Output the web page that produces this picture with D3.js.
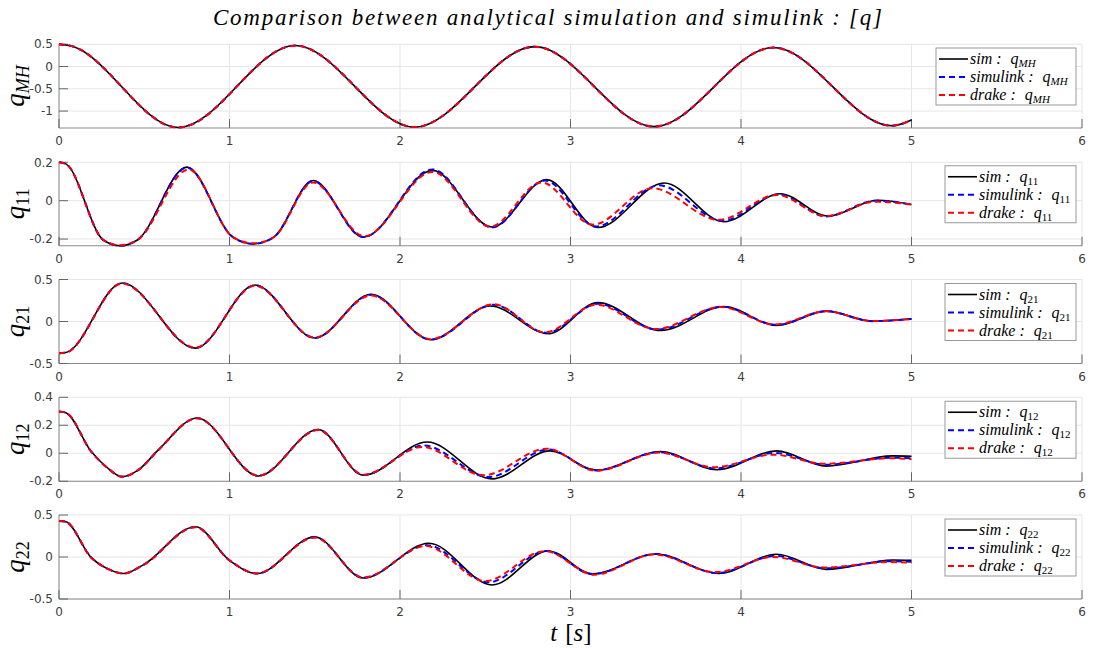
<!DOCTYPE html>
<html>
<head>
<meta charset="utf-8">
<script src="https://cdnjs.cloudflare.com/ajax/libs/d3/7.8.5/d3.min.js"></script>
<style>
  body { margin: 0; background: #fff; }
  svg text { font-family: "DejaVu Sans", sans-serif; }
  .math { font-family: "Liberation Serif", serif; font-style: italic; }
</style>
</head>
<body>
<svg id="chart"></svg>
<script>
var width = 1093;
var height = 648;
var margin = { left: 59, right: 11 };
var plotTop = 44, plotH = 84, plotGap = 117.75;

// x axis (time, s)
var xTickVals = [0, 1, 2, 3, 4, 5, 6];

// y ticks per subplot
var qMHTicks = [-1, -0.5, 0, 0.5];
var q11Ticks = [-0.2, 0, 0.2];
var q21Ticks = [-0.5, 0, 0.5];
var q12Ticks = [-0.2, 0, 0.2, 0.4];
var q22Ticks = [-0.5, 0, 0.5];

// series: [t, value] at extrema / shape points
var qMHSim      = [[0,0.50],[0.06,0.47],[0.70,-1.37],[1.385,0.47],[2.085,-1.36],[2.79,0.445],[3.49,-1.35],[4.19,0.425],[4.885,-1.33],[5.0,-1.20]];
var qMHSimulink = [[0,0.50],[0.06,0.47],[0.70,-1.37],[1.385,0.47],[2.085,-1.36],[2.79,0.445],[3.49,-1.35],[4.19,0.425],[4.885,-1.33],[5.0,-1.20]];
var qMHDrake    = [[0,0.50],[0.06,0.47],[0.70,-1.368],[1.385,0.468],[2.085,-1.358],[2.79,0.442],[3.49,-1.348],[4.19,0.422],[4.885,-1.328],[5.0,-1.20]];

var q11Sim      = [[0,0.20],[0.04,0.192],[0.26,-0.205],[0.36,-0.235],[0.46,-0.205],[0.75,0.175],[1.02,-0.19],[1.14,-0.225],[1.26,-0.19],[1.49,0.105],[1.785,-0.19],[2.19,0.158],[2.54,-0.137],[2.86,0.11],[3.16,-0.14],[3.55,0.092],[3.90,-0.11],[4.23,0.036],[4.51,-0.08],[4.80,0.002],[5.0,-0.02]];
var q11Simulink = [[0,0.20],[0.04,0.192],[0.26,-0.205],[0.36,-0.235],[0.46,-0.205],[0.75,0.172],[1.02,-0.19],[1.14,-0.225],[1.26,-0.19],[1.49,0.102],[1.785,-0.19],[2.19,0.163],[2.54,-0.14],[2.85,0.105],[3.15,-0.135],[3.52,0.08],[3.89,-0.105],[4.22,0.032],[4.50,-0.082],[4.79,0.0],[5.0,-0.02]];
var q11Drake    = [[0,0.20],[0.04,0.192],[0.26,-0.205],[0.36,-0.233],[0.46,-0.205],[0.76,0.163],[1.02,-0.19],[1.14,-0.222],[1.26,-0.19],[1.49,0.095],[1.79,-0.185],[2.19,0.15],[2.53,-0.135],[2.83,0.095],[3.13,-0.125],[3.48,0.065],[3.87,-0.10],[4.21,0.03],[4.50,-0.08],[4.79,-0.005],[5.0,-0.02]];

var q21Sim      = [[0,-0.377],[0.04,-0.37],[0.37,0.458],[0.80,-0.317],[1.15,0.434],[1.50,-0.197],[1.83,0.325],[2.18,-0.217],[2.53,0.185],[2.87,-0.145],[3.16,0.225],[3.53,-0.108],[3.90,0.177],[4.21,-0.048],[4.50,0.124],[4.77,0.004],[5.0,0.033]];
var q21Simulink = [[0,-0.377],[0.04,-0.37],[0.37,0.455],[0.80,-0.315],[1.15,0.43],[1.50,-0.195],[1.83,0.318],[2.18,-0.215],[2.55,0.20],[2.86,-0.135],[3.16,0.21],[3.51,-0.097],[3.89,0.175],[4.21,-0.04],[4.50,0.122],[4.77,0.004],[5.0,0.03]];
var q21Drake    = [[0,-0.377],[0.04,-0.37],[0.37,0.452],[0.80,-0.31],[1.15,0.425],[1.50,-0.19],[1.83,0.31],[2.18,-0.21],[2.55,0.205],[2.85,-0.13],[3.15,0.20],[3.50,-0.09],[3.88,0.172],[4.20,-0.035],[4.50,0.122],[4.77,0.006],[5.0,0.03]];

var q12Sim      = [[0,0.298],[0.04,0.29],[0.19,0.01],[0.28,-0.10],[0.37,-0.168],[0.47,-0.115],[0.58,0.02],[0.81,0.252],[1.17,-0.162],[1.52,0.17],[1.785,-0.157],[2.16,0.08],[2.54,-0.183],[2.88,0.017],[3.15,-0.12],[3.53,0.012],[3.86,-0.118],[4.21,0.017],[4.50,-0.092],[4.89,-0.019],[5.0,-0.022]];
var q12Simulink = [[0,0.298],[0.04,0.29],[0.19,0.01],[0.28,-0.10],[0.37,-0.168],[0.47,-0.115],[0.58,0.02],[0.81,0.25],[1.17,-0.16],[1.52,0.168],[1.785,-0.155],[2.14,0.055],[2.52,-0.17],[2.87,0.027],[3.15,-0.123],[3.52,0.008],[3.85,-0.108],[4.20,0.002],[4.50,-0.082],[4.88,-0.032],[5.0,-0.036]];
var q12Drake    = [[0,0.298],[0.04,0.29],[0.19,0.01],[0.28,-0.10],[0.37,-0.166],[0.47,-0.115],[0.58,0.02],[0.81,0.25],[1.17,-0.16],[1.52,0.166],[1.785,-0.153],[2.13,0.045],[2.49,-0.157],[2.86,0.033],[3.15,-0.125],[3.52,0.005],[3.84,-0.10],[4.19,-0.01],[4.49,-0.075],[4.87,-0.036],[5.0,-0.042]];

var q22Sim      = [[0,0.43],[0.04,0.42],[0.19,-0.01],[0.28,-0.135],[0.38,-0.197],[0.49,-0.10],[0.80,0.36],[1.0,-0.04],[1.16,-0.197],[1.50,0.24],[1.785,-0.25],[2.17,0.163],[2.54,-0.333],[2.87,0.072],[3.13,-0.20],[3.50,0.036],[3.87,-0.195],[4.21,0.032],[4.50,-0.147],[4.89,-0.036],[5.0,-0.04]];
var q22Simulink = [[0,0.43],[0.04,0.42],[0.19,-0.01],[0.28,-0.135],[0.38,-0.197],[0.49,-0.10],[0.80,0.358],[1.0,-0.04],[1.16,-0.197],[1.50,0.236],[1.785,-0.247],[2.16,0.14],[2.52,-0.30],[2.86,0.072],[3.13,-0.205],[3.50,0.035],[3.86,-0.19],[4.20,0.012],[4.50,-0.135],[4.88,-0.05],[5.0,-0.058]];
var q22Drake    = [[0,0.43],[0.04,0.42],[0.19,-0.01],[0.28,-0.135],[0.38,-0.195],[0.49,-0.10],[0.80,0.355],[1.0,-0.04],[1.16,-0.195],[1.50,0.232],[1.785,-0.245],[2.15,0.13],[2.50,-0.286],[2.85,0.07],[3.14,-0.21],[3.49,0.03],[3.85,-0.18],[4.19,0.0],[4.49,-0.125],[4.87,-0.06],[5.0,-0.068]];

var panels = [
  { sub: "MH", subItalic: true,  yDomain: [-1.38, 0.505], ticks: qMHTicks, sim: qMHSim, simulink: qMHSimulink, drake: qMHDrake, legLeft: 936 },
  { sub: "11", subItalic: false, yDomain: [-0.235, 0.203], ticks: q11Ticks, sim: q11Sim, simulink: q11Simulink, drake: q11Drake, legLeft: 945 },
  { sub: "21", subItalic: false, yDomain: [-0.5, 0.5],    ticks: q21Ticks, sim: q21Sim, simulink: q21Simulink, drake: q21Drake, legLeft: 945 },
  { sub: "12", subItalic: false, yDomain: [-0.2, 0.4],    ticks: q12Ticks, sim: q12Sim, simulink: q12Simulink, drake: q12Drake, legLeft: 945 },
  { sub: "22", subItalic: false, yDomain: [-0.5, 0.5],    ticks: q22Ticks, sim: q22Sim, simulink: q22Simulink, drake: q22Drake, legLeft: 945 }
];

var seriesStyle = [
  { key: "sim",      name: "sim",      color: "#000000", dash: null,  w: 1.6 },
  { key: "simulink", name: "simulink", color: "#0000ff", dash: "6,4", w: 2 },
  { key: "drake",    name: "drake",    color: "#ff0000", dash: "6,4", w: 2 }
];

var svg = d3.select("#chart")
  .attr("width", width)
  .attr("height", height)
  .attr("viewBox", [0, 0, width, height]);

var x = d3.scaleLinear().domain([0, 6]).range([margin.left, width - margin.right]);

// write "q" with a subscript into a text element
function addQ(textSel, sub, subItalic, bigSize, smallSize, shift) {
  textSel.append("tspan").attr("font-size", bigSize).text("q");
  textSel.append("tspan")
    .attr("font-size", smallSize)
    .attr("dy", shift)
    .style("font-style", subItalic ? "italic" : "normal")
    .text(sub);
}

panels.forEach(function(p, i) {
  var top = plotTop + i * plotGap;
  var bottom = top + plotH;
  var y = d3.scaleLinear().domain(p.yDomain).range([bottom, top]);
  var g = svg.append("g");

  // grid
  g.selectAll("line.vgrid").data(xTickVals).join("line")
    .attr("x1", d => x(d)).attr("x2", d => x(d))
    .attr("y1", top).attr("y2", bottom)
    .attr("stroke", "#e6e6e6").attr("stroke-width", 1);
  g.selectAll("line.hgrid").data(p.ticks).join("line")
    .attr("x1", x(0)).attr("x2", x(6))
    .attr("y1", d => y(d)).attr("y2", d => y(d))
    .attr("stroke", "#e6e6e6").attr("stroke-width", 1);

  // axes lines
  g.append("line").attr("x1", x(0)).attr("x2", x(6)).attr("y1", bottom).attr("y2", bottom)
    .attr("stroke", "#8a8a8a").attr("stroke-width", 1);
  g.append("line").attr("x1", x(0)).attr("x2", x(0)).attr("y1", top).attr("y2", bottom)
    .attr("stroke", "#8a8a8a").attr("stroke-width", 1);

  // ticks (inward)
  g.append("g").selectAll("line").data(xTickVals).join("line")
    .attr("x1", d => x(d)).attr("x2", d => x(d))
    .attr("y1", bottom).attr("y2", bottom - 9)
    .attr("stroke", "#666").attr("stroke-width", 1);
  g.append("g").selectAll("line").data(p.ticks).join("line")
    .attr("x1", x(0)).attr("x2", x(0) + 9)
    .attr("y1", d => y(d)).attr("y2", d => y(d))
    .attr("stroke", "#666").attr("stroke-width", 1);

  // tick labels
  g.append("g").selectAll("text").data(xTickVals).join("text")
    .attr("x", d => x(d)).attr("y", bottom + 17)
    .attr("text-anchor", "middle")
    .attr("font-size", 12).attr("fill", "#3c3c3c")
    .text(d => String(d));
  g.append("g").selectAll("text").data(p.ticks).join("text")
    .attr("x", x(0) - 6).attr("y", d => y(d)).attr("dy", "0.35em")
    .attr("text-anchor", "end")
    .attr("font-size", 12).attr("fill", "#3c3c3c")
    .text(d => String(d));

  // curves
  var line = d3.line()
    .x(d => x(d[0]))
    .y(d => y(d[1]))
    .curve(d3.curveMonotoneX);
  seriesStyle.forEach(function(s) {
    g.append("path")
      .datum(p[s.key])
      .attr("d", line)
      .attr("fill", "none")
      .attr("stroke", s.color)
      .attr("stroke-width", s.w)
      .attr("stroke-dasharray", s.dash);
  });

  // y label
  var yl = g.append("text")
    .attr("class", "math")
    .attr("transform", "translate(24," + ((top + bottom) / 2) + ") rotate(-90)")
    .attr("text-anchor", "middle");
  addQ(yl, p.sub, p.subItalic, 27, 18, 5);

  // legend
  var lx = p.legLeft, lr = width - 17, ly = top + 4;
  g.append("rect")
    .attr("x", lx).attr("y", ly)
    .attr("width", lr - lx).attr("height", 57)
    .attr("fill", "#fff").attr("stroke", "#999").attr("stroke-width", 1);
  seriesStyle.forEach(function(s, j) {
    var ry = ly + 11 + j * 18;
    g.append("line")
      .attr("x1", lx + 3).attr("x2", lx + 32)
      .attr("y1", ry).attr("y2", ry)
      .attr("stroke", s.color).attr("stroke-width", s.w)
      .attr("stroke-dasharray", s.dash);
    var t = g.append("text").attr("class", "math")
      .attr("x", lx + 34).attr("y", ry + 5)
      .attr("font-size", 16).attr("fill", "#000");
    t.append("tspan").text(s.name);
    t.append("tspan").attr("dx", 4).text(":");
    t.append("tspan").attr("dx", 9).text("q");
    t.append("tspan").attr("font-size", 11).attr("dy", 3)
      .style("font-style", p.subItalic ? "italic" : "normal").text(p.sub);
  });
});

// title
svg.append("text")
  .attr("class", "math")
  .attr("x", 213).attr("y", 25)
  .attr("font-size", 23)
  .attr("textLength", 669).attr("lengthAdjust", "spacing")
  .text("Comparison between analytical simulation and simulink :  [q]");

// x label
var xl = svg.append("text")
  .attr("class", "math")
  .attr("x", 571).attr("y", 641)
  .attr("text-anchor", "middle")
  .attr("font-size", 25);
xl.append("tspan").text("t");
xl.append("tspan").attr("dx", 8).style("font-style", "normal").text("[");
xl.append("tspan").text("s");
xl.append("tspan").style("font-style", "normal").text("]");
</script>
</body>
</html>
